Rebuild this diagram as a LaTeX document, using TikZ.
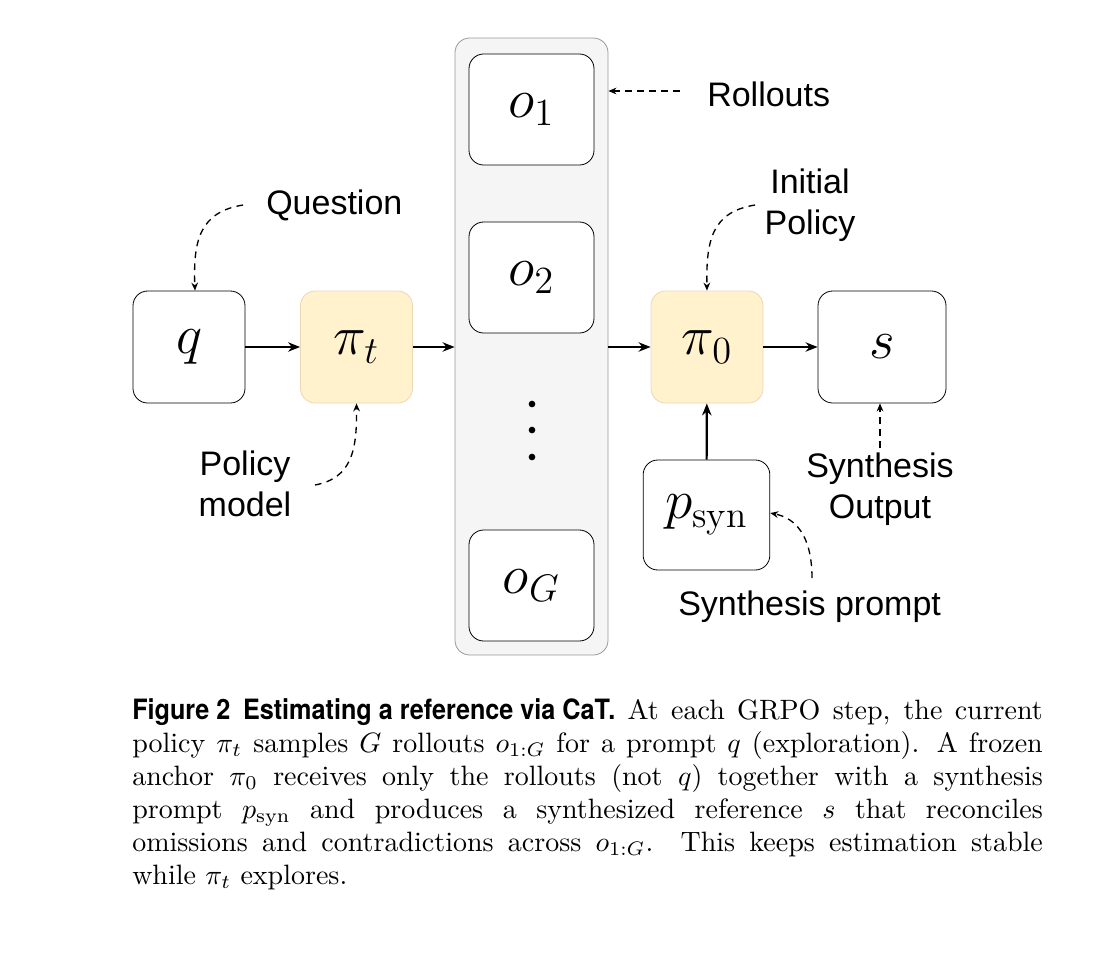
\documentclass[tikz,border=0pt]{standalone}
\usepackage{fontspec}
\usepackage{graphicx}
\newfontfamily\lblfont{Liberation Sans}
\newfontfamily\capsans{TeX Gyre Heros}
\usetikzlibrary{arrows.meta}
\newcommand{\bigmath}[1]{\scalebox{2}{$#1$}}
\begin{document}
\begin{tikzpicture}[x=0.75pt,y=-0.75pt,
  box/.style={draw=black,fill=white,rounded corners=11pt,line width=0.6pt,inner sep=0pt,font=\fontsize{20}{24}\selectfont},
  lbl/.style={font=\lblfont\fontsize{25.5}{31}\selectfont,align=center,inner sep=0pt},
  flow/.style={-{Stealth[length=9pt,width=7pt]},line width=1.6pt},
  hint/.style={-{Stealth[length=6pt,width=5pt]},line width=1pt,dash pattern=on 5pt off 4pt},
  dot/.style={circle,fill=black,inner sep=0pt,minimum size=5pt}]
\definecolor{pfill}{HTML}{FFF2CC}
\useasboundingbox (0,0) rectangle (1110,968);
\node[draw=gray!80,fill=gray!8,rounded corners=11pt,minimum width=114.75pt,minimum height=462.75pt,line width=0.6pt] (roll) at (531.5,346.5) {};
\node[box,minimum width=84pt,minimum height=84pt] (q) at (189,347) {\bigmath{q}};
\node[box,draw=pfill!60!brown!70,fill=pfill,minimum width=84pt,minimum height=84pt] (pit) at (356.5,347) {\bigmath{\pi_t}};
\node[box,minimum width=93.75pt,minimum height=83.25pt] (o1) at (531.5,109.5) {\bigmath{o_1}};
\node[box,minimum width=93.75pt,minimum height=83.25pt] (o2) at (531.5,277.5) {\bigmath{o_2}};
\node[box,minimum width=93.75pt,minimum height=83.25pt] (oG) at (531.5,585.5) {\bigmath{o_G}};
\node[dot] (d1) at (532,404) {};
\node[dot] (d2) at (532,430) {};
\node[dot] (d3) at (532,457) {};
\node[box,draw=pfill!60!brown!70,fill=pfill,minimum width=84pt,minimum height=84pt] (pi0) at (707,347) {\bigmath{\pi_0}};
\node[box,minimum width=96pt,minimum height=84pt] (s) at (882,347) {\bigmath{s}};
\node[box,minimum width=95pt,minimum height=82.5pt] (psyn) at (706.5,515) {\bigmath{p_{\mathrm{syn}}}};
\draw[flow] (q) -- (pit);
\draw[flow] (pit) -- (roll.west |- pit);
\draw[flow] (roll.east |- pi0) -- (pi0);
\draw[flow] (pi0) -- (s);
\draw[flow] (psyn) -- (pi0);
\node[lbl,anchor=west] (rl) at (707,94) {Rollouts};
\coordinate (rs) at (680,91);
\draw[hint] (rs) -- (roll.east |- rs);
\node[lbl,anchor=west] (ql) at (266,205) {Question};
\coordinate (qs) at (243,205);
\draw[hint] (qs) .. controls (200,212) and (193,240) .. (q.north -| 195,0);
\node[lbl] (il) at (810,205) {Initial\\Policy};
\coordinate (is) at (755,205);
\draw[hint] (is) .. controls (712,212) and (706,240) .. (pi0.north);
\node[lbl] (pl) at (245,484) {Policy\\model};
\coordinate (ps) at (315,485);
\draw[hint] (ps) .. controls (352,478) and (357,450) .. (pit.south);
\node[lbl] (sl) at (880,489) {Synthesis\\Output};
\coordinate (ss) at (880,448);
\draw[hint] (ss) -- (s.south -| ss);
\node[lbl,anchor=west] (spl) at (678,607) {Synthesis prompt};
\coordinate (sps) at (812,578);
\draw[hint] (sps) .. controls (812,535) and (795,518) .. (psyn.east |- 0,513);
\node[anchor=north west,inner sep=0pt] (cap) at (132,698)
{\scalebox{2.1}{\parbox{325.2pt}{\fontsize{10}{11.8}\selectfont\hyphenpenalty=10000
\scalebox{0.9}[1]{\capsans\bfseries Figure 2\hspace{0.5em}Estimating a reference via CaT.} At each GRPO step, the current\linebreak policy $\pi_t$ samples $G$ rollouts $o_{1:G}$ for a prompt $q$ (exploration). A frozen\linebreak anchor $\pi_0$ receives only the rollouts (not $q$) together with a synthesis\linebreak prompt $p_{\mathrm{syn}}$ and produces a synthesized reference $s$ that reconciles\linebreak omissions and contradictions across $o_{1:G}$. This keeps estimation stable\linebreak while $\pi_t$ explores.\par}}};
\end{tikzpicture}
\end{document}
